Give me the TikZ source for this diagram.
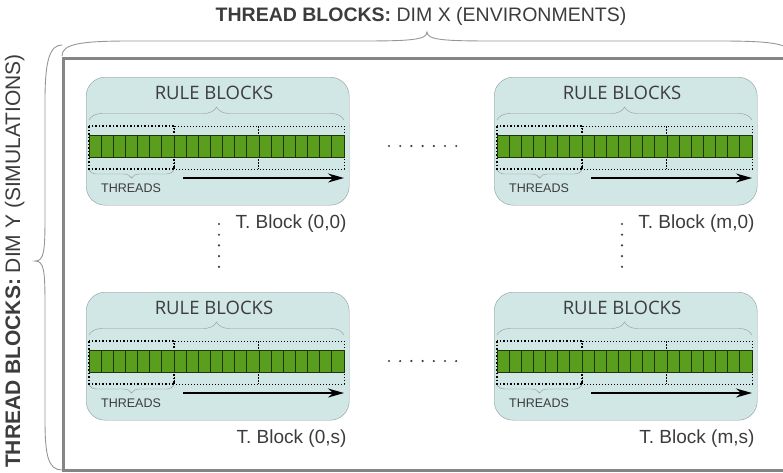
\documentclass[tikz,border=0pt]{standalone}
\usepackage{fontspec}
\setmainfont{Liberation Sans}
\newfontfamily\rulefont{Open Sans}
\usetikzlibrary{positioning,arrows.meta,decorations.pathreplacing}
\definecolor{textgray}{HTML}{3C3C3C}
\definecolor{bracegray}{HTML}{969696}
\definecolor{framegray}{HTML}{858585}
\definecolor{blockfill}{HTML}{D0E7E5}
\definecolor{blockline}{HTML}{8E9A99}
\definecolor{threadgreen}{HTML}{5A9E1E}
\definecolor{celledge}{HTML}{1E3308}
\tikzset{
    >=Stealth,
    tbrace/.style={draw=bracegray,decorate,decoration={brace,amplitude=#1}},
    bigbrace/.style={draw=bracegray,line width=0.9pt},
    blockbox/.style={draw=blockline,fill=blockfill,rounded corners=19pt,
                     anchor=north west,minimum width=263pt,minimum height=128pt},
    ruletitle/.style={text=textgray,font=\rulefont\fontsize{18.5}{18.5}\selectfont},
    threadlabel/.style={text=textgray,font=\fontsize{12.5}{12.5}\selectfont},
    blocklabel/.style={text=textgray,font=\fontsize{19}{19}\selectfont,anchor=east},
    cell/.style={draw=celledge,fill=threadgreen,line width=0.8pt},
    flowarrow/.style={->,>={Stealth[length=16pt,width=9pt]},line width=1.5pt},
    tblock/.pic={
        % block body
        \node[blockbox] (-box) at (0,0) {};
        \node[ruletitle] (-title) at (128,16) {RULE BLOCKS};
        \draw[tbrace=13pt] (3,43) -- (258,43);
        % rule blocks and threads
        \draw[dotted,line width=1.5pt] (3,49) rectangle (88,92);
        \draw[dotted,line width=1pt] (88,49) rectangle (172,92) (172,49) rectangle (258,92);
        \foreach \i in {0,...,20}
            \draw[cell] ({3+\i*255/21},58) rectangle ({3+(\i+1)*255/21},80);
        \draw[tbrace=8pt] (88,93) -- (3,93);
        \node[threadlabel] (-threads) at (45,111) {THREADS};
        \coordinate (-from) at (97,101);
        \coordinate (-to) at (258,101);
        \draw[flowarrow] (-from) -- (-to);
        \node[blocklabel] (-label) at (264,147) {T. Block #1};
    }
}

\begin{document}
\begin{tikzpicture}[x=1pt,y=-1pt]

\clip (0,0) rectangle (783,472);
\useasboundingbox (0,0) rectangle (783,472);

% Grid of thread blocks
\node[draw=framegray,line width=3pt,anchor=north west,
      minimum width=730pt,minimum height=412pt] (frame) at (62,57) {};

% Dimension braces
\draw[bigbrace] (62,56) .. controls (62,44) and (80,41) .. (130,41) -- (360,41)
    .. controls (410,41) and (427,40) .. (427,32)
    .. controls (427,40) and (444,41) .. (494,41) -- (720,41)
    .. controls (775,41) and (792,44) .. (792,56);
\draw[bigbrace] (62,470) .. controls (48,470) and (45,455) .. (45,420) -- (45,305)
    .. controls (45,270) and (44,261) .. (35,261)
    .. controls (44,261) and (45,252) .. (45,217) -- (45,100)
    .. controls (45,60) and (50,45) .. (62,45);

\node[text=textgray,font=\fontsize{19.5}{19.5}\selectfont,anchor=base] (dimx) at (421,21)
    {\textbf{THREAD BLOCKS:} DIM X (ENVIRONMENTS)};
\node[text=textgray,font=\fontsize{21}{21}\selectfont,anchor=base,rotate=90] (dimy) at (20,261)
    {\textbf{THREAD BLOCKS:} DIM Y (SIMULATIONS)};

% Blocks
\pic (b00) at (86,77) {tblock={(0,0)}};
\pic (bm0) at (494,77) {tblock={(m,0)}};
\pic (b0s) at (86,292) {tblock={(0,s)}};
\pic (bms) at (494,292) {tblock={(m,s)}};

% Dots
\foreach \k in {0,...,6} {
    \fill[textgray] ({389+\k*11.2},146) circle (1.2pt);
    \fill[textgray] ({389+\k*11.2},361) circle (1.2pt);
}
\foreach \k in {0,...,4} {
    \fill[textgray] (219,{224+\k*10.7}) circle (1.2pt);
    \fill[textgray] (622,{224+\k*10.7}) circle (1.2pt);
}

\end{tikzpicture}
\end{document}
